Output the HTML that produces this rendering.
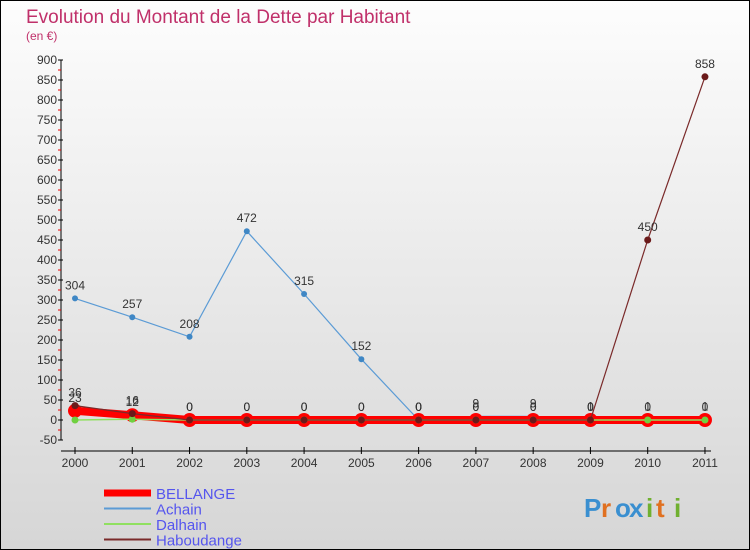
<!DOCTYPE html>
<html><head><meta charset="utf-8">
<style>
body{margin:0;}
#c{width:748px;height:548px;border:1px solid #000;background:linear-gradient(#fdfdfd,#d6d6d6);position:relative;font-family:"Liberation Sans",sans-serif;overflow:hidden}
</style></head><body>
<div id="c">
<svg id="s" width="748" height="548" xmlns="http://www.w3.org/2000/svg"></svg>
</div>
<script>
const years=["2000","2001","2002","2003","2004","2005","2006","2007","2008","2009","2010","2011"];
const yTicks=[-50,0,50,100,150,200,250,300,350,400,450,500,550,600,650,700,750,800,850,900];
const bellange=[23,12,0,0,0,0,0,0,0,0,0,0];
const achain=[304,257,208,472,315,152,0,9,9,1,1,1];
const dalhain=[0,2,0,0,0,0,0,0,0,0,0,0];
const haboudange=[36,16,0,0,0,0,0,0,0,0,450,858];
const ns="http://www.w3.org/2000/svg",s=document.getElementById('s');
const X=i=>74+i*57.27, Y=v=>419-v*0.4;
function el(t,a,p){const e=document.createElementNS(ns,t);for(const k in a)e.setAttribute(k,a[k]);(p||s).appendChild(e);return e;}
function tx(x,y,str,a,p){const e=el('text',Object.assign({x:x,y:y},a),p);e.textContent=str;return e;}
let t=tx(25,22,"Evolution du Montant de la Dette par Habitant",{fill:"#c0306a","font-size":19});

t=tx(25,39,"(en €)",{fill:"#c0306a","font-size":12});

let ax=el('g',{});
el('line',{x1:60,y1:Y(900),x2:60,y2:Y(-50),stroke:"#000"},ax);
yTicks.forEach(v=>{el('line',{x1:57,x2:62,y1:Y(v),y2:Y(v),stroke:"#000"},ax);
 if(v>-50)el('line',{x1:57,x2:60,y1:Y(v)+10,y2:Y(v)+10,stroke:"#e00"},ax);
 tx(56,Y(v)+4,String(v),{"text-anchor":"end","font-size":12,fill:"#333"},ax);});
let xa=el('g',{});
el('line',{x1:60,x2:710,y1:450,y2:450,stroke:"#000"},xa);
years.forEach((y,i)=>{el('line',{x1:X(i),x2:X(i),y1:446,y2:453,stroke:"#000"},xa);
 tx(X(i),466,y,{"text-anchor":"middle","font-size":12,fill:"#333"},xa);});
function series(name,data,color,w,r,pc,lbl){
 const g=el('g',{});
 el('polyline',{points:data.map((v,i)=>X(i)+","+Y(v)).join(" "),fill:"none",stroke:color,"stroke-width":w},g);
 data.forEach((v,i)=>{const c=el('circle',{cx:X(i),cy:Y(v),r:r,fill:pc},g);
  
  if(lbl)tx(X(i),Y(v)-9,String(v),{"text-anchor":"middle","font-size":12,fill:"#333"},g);});
}
series('achain',achain,"#5b9bd5",1.2,3,"#3f87c5",true);
series('bellange',bellange,"#ff0000",8,7,"#ff0000",true);
series('dalhain',dalhain,"#90e060",1.5,3.5,"#70d040",false);
series('haboudange',haboudange,"#7a2a2a",1.2,3.5,"#6b1a1a",true);
const leg=[["BELLANGE","#ff0000",7],["Achain","#5b9bd5",2],["Dalhain","#90e060",2],["Haboudange","#7a2a2a",2]];
leg.forEach((l,i)=>{const g=el('g',{});
 el('line',{x1:103,x2:150,y1:492+i*15.5,y2:492+i*15.5,stroke:l[1],"stroke-width":l[2]},g);
 tx(155,498+i*15.5,l[0],{"font-size":15,fill:"#5555ee"},g);});
const lg=el('g',{});
const cols=["#3a8fd0","#e07020","#3a8fd0","#3a8fd0","#70b030","#e07020","#70b030"];
const xs=[583,600,614,628,645,655,673];
"Proxiti".split("").forEach((ch,i)=>tx(xs[i],516,ch,{"font-size":26,"font-weight":"bold",fill:cols[i]},lg));
</script>
</body></html>
